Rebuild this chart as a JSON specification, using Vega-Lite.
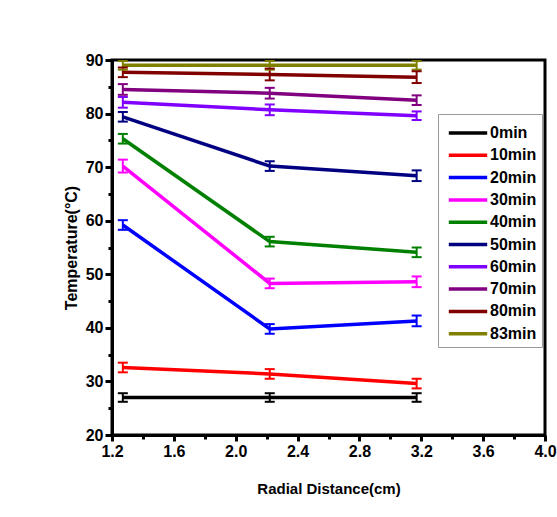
{
  "$schema": "https://vega.github.io/schema/vega-lite/v6.json",
  "width": 433,
  "height": 375,
  "autosize": {"type": "none"},
  "padding": {"left": 112, "top": 60, "right": 12, "bottom": 82},
  "background": "white",
  "config": {
    "view": {"stroke": "black", "strokeWidth": 3},
    "font": "Liberation Sans",
    "axis": {
      "labelFont": "Liberation Sans",
      "labelFontWeight": "bold",
      "labelFontSize": 16,
      "labelColor": "black",
      "titleFont": "Liberation Sans",
      "titleFontWeight": "bold",
      "titleFontSize": 15,
      "titleColor": "black",
      "domainColor": "black",
      "domainWidth": 3,
      "tickColor": "black",
      "tickWidth": 3,
      "grid": false
    }
  },
  "data": {
    "values": [
      {"t": "0min", "x": 1.27, "y": 27.0, "lo": 26.2, "hi": 27.8},
      {"t": "0min", "x": 2.22, "y": 27.0, "lo": 26.2, "hi": 27.8},
      {"t": "0min", "x": 3.17, "y": 27.0, "lo": 26.2, "hi": 27.8},
      {"t": "10min", "x": 1.27, "y": 32.6, "lo": 31.7, "hi": 33.5},
      {"t": "10min", "x": 2.22, "y": 31.4, "lo": 30.5, "hi": 32.3},
      {"t": "10min", "x": 3.17, "y": 29.6, "lo": 28.7, "hi": 30.5},
      {"t": "20min", "x": 1.27, "y": 59.2, "lo": 58.3, "hi": 60.1},
      {"t": "20min", "x": 2.22, "y": 39.8, "lo": 38.9, "hi": 40.7},
      {"t": "20min", "x": 3.17, "y": 41.3, "lo": 40.3, "hi": 42.3},
      {"t": "30min", "x": 1.27, "y": 70.2, "lo": 69.0, "hi": 71.4},
      {"t": "30min", "x": 2.22, "y": 48.3, "lo": 47.4, "hi": 49.2},
      {"t": "30min", "x": 3.17, "y": 48.6, "lo": 47.6, "hi": 49.6},
      {"t": "40min", "x": 1.27, "y": 75.3, "lo": 74.4, "hi": 76.2},
      {"t": "40min", "x": 2.22, "y": 56.1, "lo": 55.2, "hi": 57.0},
      {"t": "40min", "x": 3.17, "y": 54.1, "lo": 53.2, "hi": 55.0},
      {"t": "50min", "x": 1.27, "y": 79.4, "lo": 78.5, "hi": 80.3},
      {"t": "50min", "x": 2.22, "y": 70.2, "lo": 69.3, "hi": 71.1},
      {"t": "50min", "x": 3.17, "y": 68.4, "lo": 67.4, "hi": 69.4},
      {"t": "60min", "x": 1.27, "y": 82.1, "lo": 81.1, "hi": 83.1},
      {"t": "60min", "x": 2.22, "y": 80.7, "lo": 79.7, "hi": 81.7},
      {"t": "60min", "x": 3.17, "y": 79.6, "lo": 78.8, "hi": 80.4},
      {"t": "70min", "x": 1.27, "y": 84.5, "lo": 83.5, "hi": 85.5},
      {"t": "70min", "x": 2.22, "y": 83.8, "lo": 82.8, "hi": 84.8},
      {"t": "70min", "x": 3.17, "y": 82.5, "lo": 81.6, "hi": 83.4},
      {"t": "80min", "x": 1.27, "y": 87.7, "lo": 86.8, "hi": 88.6},
      {"t": "80min", "x": 2.22, "y": 87.3, "lo": 86.2, "hi": 88.4},
      {"t": "80min", "x": 3.17, "y": 86.8, "lo": 85.7, "hi": 87.9},
      {"t": "83min", "x": 1.27, "y": 89.0, "lo": 88.2, "hi": 89.8},
      {"t": "83min", "x": 2.22, "y": 89.0, "lo": 88.2, "hi": 89.8},
      {"t": "83min", "x": 3.17, "y": 89.0, "lo": 88.2, "hi": 89.8}
    ]
  },
  "resolve": {"axis": {"x": "independent", "y": "independent"}},
  "layer": [
    {
      "mark": {"type": "line", "strokeWidth": 3.5},
      "encoding": {
        "x": {
          "field": "x", "type": "quantitative",
          "scale": {"domain": [1.2, 4.0], "nice": false, "zero": false},
          "axis": {"orient": "bottom", "title": "Radial Distance(cm)", "values": [1.2, 1.6, 2.0, 2.4, 2.8, 3.2, 3.6, 4.0], "format": ".1f", "tickSize": 6, "labelPadding": 2, "titlePadding": 22, "labelFlush": false}
        },
        "y": {
          "field": "y", "type": "quantitative",
          "scale": {"domain": [20, 90], "nice": false, "zero": false},
          "axis": {"orient": "left", "title": "Temperature(°C)", "titleFontSize": 16, "values": [20, 30, 40, 50, 60, 70, 80, 90], "tickSize": 7, "labelPadding": 2, "titlePadding": 6, "labelFlush": false}
        },
        "color": {
          "field": "t", "type": "nominal",
          "scale": {
            "domain": ["0min", "10min", "20min", "30min", "40min", "50min", "60min", "70min", "80min", "83min"],
            "range": ["#000000", "#ff0000", "#0000ff", "#ff00ff", "#008000", "#000080", "#8000ff", "#800080", "#800000", "#808000"]
          },
          "legend": {
            "orient": "none",
            "legendX": 326,
            "legendY": 54,
            "title": null,
            "strokeColor": "#9a9a9a",
            "fillColor": "white",
            "padding": 5,
            "symbolType": "M-1.6,0H1.6",
            "symbolSize": 576,
            "symbolStrokeWidth": 3.5,
            "symbolOpacity": 1,
            "symbolOffset": 11,
            "labelOffset": 8,
            "rowPadding": 0.3,
            "labelFont": "Liberation Sans",
            "labelFontWeight": "bold",
            "labelFontSize": 16,
            "labelColor": "black",
            "encode": {"symbols": {"update": {"opacity": {"value": 1}, "strokeOpacity": {"value": 1}}}}
          }
        }
      }
    },
    {
      "mark": {"type": "rule", "strokeWidth": 2},
      "encoding": {
        "x": {"field": "x", "type": "quantitative", "axis": {"orient": "bottom", "values": [1.4, 1.8, 2.2, 2.6, 3.0, 3.4, 3.8], "labels": false, "domain": false, "title": null, "tickSize": 4}},
        "y": {"field": "lo", "type": "quantitative", "axis": {"orient": "left", "values": [25, 35, 45, 55, 65, 75, 85], "labels": false, "domain": false, "title": null, "tickSize": 4}},
        "y2": {"field": "hi"},
        "color": {"field": "t", "type": "nominal"}
      }
    },
    {
      "mark": {"type": "tick", "orient": "horizontal", "size": 10, "thickness": 2, "opacity": 1},
      "encoding": {
        "x": {"field": "x", "type": "quantitative", "axis": null},
        "y": {"field": "lo", "type": "quantitative", "axis": null},
        "color": {"field": "t", "type": "nominal"}
      }
    },
    {
      "mark": {"type": "tick", "orient": "horizontal", "size": 10, "thickness": 2, "opacity": 1},
      "encoding": {
        "x": {"field": "x", "type": "quantitative", "axis": null},
        "y": {"field": "hi", "type": "quantitative", "axis": null},
        "color": {"field": "t", "type": "nominal"}
      }
    }
  ]
}
